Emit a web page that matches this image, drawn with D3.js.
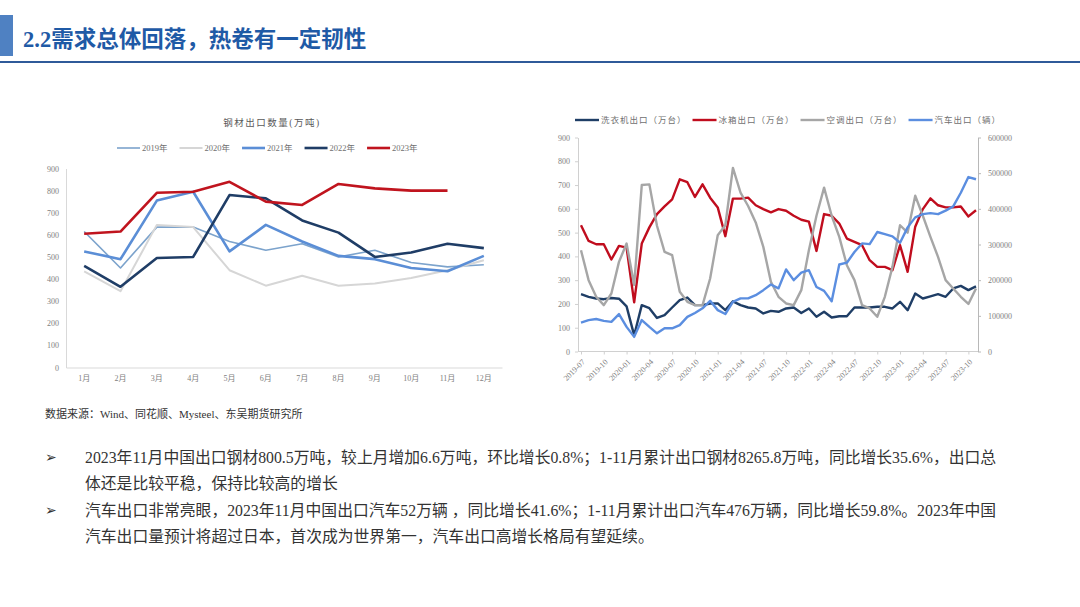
<!DOCTYPE html>
<html>
<head>
<meta charset="utf-8">
<script src="https://cdn.jsdelivr.net/npm/d3@7"></script>
<style>
    body { margin: 0; background: #fff; }
    svg { display: block; }
</style>
</head>
<body>
<svg></svg>
<script>
// заголовок и подписи
const titleText = "2.2需求总体回落，热卷有一定韧性";
const steelTitle = "钢材出口数量(万吨)";
const sourceText = "数据来源：Wind、同花顺、Mysteel、东吴期货研究所";

// левый график: экспорт стали по месяцам
const months = ["1月", "2月", "3月", "4月", "5月", "6月", "7月", "8月", "9月", "10月", "11月", "12月"];
const years = ["2019年", "2020年", "2021年", "2022年", "2023年"];
const steel2019 = [615, 450, 635, 635, 570, 530, 560, 500, 530, 475, 455, 465];
const steel2020 = [435, 345, 645, 635, 440, 370, 415, 370, 380, 405, 440, 485];
const steel2021 = [525, 490, 755, 795, 525, 645, 570, 505, 490, 450, 435, 505];
const steel2022 = [460, 365, 495, 500, 780, 765, 665, 610, 500, 520, 560, 540];
const steel2023 = [605, 615, 790, 795, 840, 750, 735, 830, 810, 800, 800];
const steelTicks = [0, 100, 200, 300, 400, 500, 600, 700, 800, 900];

// правый график: бытовая техника и автомобили
const dates = [
    "2019-07", "2019-08", "2019-09", "2019-10", "2019-11", "2019-12",
    "2020-01", "2020-02", "2020-03", "2020-04", "2020-05", "2020-06",
    "2020-07", "2020-08", "2020-09", "2020-10", "2020-11", "2020-12",
    "2021-01", "2021-02", "2021-03", "2021-04", "2021-05", "2021-06",
    "2021-07", "2021-08", "2021-09", "2021-10", "2021-11", "2021-12",
    "2022-01", "2022-02", "2022-03", "2022-04", "2022-05", "2022-06",
    "2022-07", "2022-08", "2022-09", "2022-10", "2022-11", "2022-12",
    "2023-01", "2023-02", "2023-03", "2023-04", "2023-05", "2023-06",
    "2023-07", "2023-08", "2023-09", "2023-10", "2023-11"
];
const dateTicks = ["2019-07", "2019-10", "2020-01", "2020-04", "2020-07", "2020-10",
    "2021-01", "2021-04", "2021-07", "2021-10", "2022-01", "2022-04",
    "2022-07", "2022-10", "2023-01", "2023-04", "2023-07", "2023-10"];
const applianceNames = ["洗衣机出口（万台）", "冰箱出口（万台）", "空调出口（万台）", "汽车出口（辆）"];
const washer = [241, 230, 223, 220, 225, 222, 190, 68, 195, 182, 141, 153, 185, 216, 227, 195, 195, 202,
    202, 174, 211, 195, 185, 181, 160, 171, 167, 181, 185, 162, 181, 146, 167, 143, 148, 148,
    185, 185, 185, 188, 188, 181, 209, 174, 244, 223, 232, 241, 230, 265, 276, 258, 274];
const fridge = [531, 465, 451, 451, 387, 444, 437, 207, 454, 522, 578, 610, 640, 724, 712, 650, 703, 647,
    606, 485, 643, 643, 647, 615, 599, 585, 599, 592, 571, 554, 546, 423, 578, 571, 538, 475,
    461, 447, 384, 356, 356, 342, 447, 335, 525, 599, 644, 615, 606, 606, 610, 568, 594];
const aircon = [426, 300, 230, 195, 244, 377, 454, 280, 700, 703, 529, 419, 405, 251, 209, 195, 195, 307,
    489, 531, 772, 668, 612, 543, 440, 293, 230, 202, 195, 258, 426, 571, 689, 571, 482, 363,
    300, 195, 181, 146, 230, 356, 531, 500, 655, 571, 482, 398, 300, 265, 230, 200, 265];
const autos = [81000, 88000, 91000, 86000, 83000, 105000, 69000, 41000, 88000, 69000, 51000, 65000,
    65000, 74000, 97000, 108000, 121000, 142000, 116000, 105000, 139000, 149000, 149000, 158000,
    172000, 188000, 177000, 230000, 200000, 221000, 228000, 181000, 170000, 141000, 244000, 249000,
    279000, 303000, 301000, 335000, 329000, 323000, 305000, 348000, 376000, 385000, 388000, 385000,
    395000, 407000, 445000, 489000, 483000];
const leftTicks = [0, 100, 200, 300, 400, 500, 600, 700, 800, 900];
const rightTicks = [0, 100000, 200000, 300000, 400000, 500000, 600000];

// текст внизу
const notes = [
    { bullet: true, text: "2023年11月中国出口钢材800.5万吨，较上月增加6.6万吨，环比增长0.8%；1-11月累计出口钢材8265.8万吨，同比增长35.6%，出口总" },
    { bullet: false, text: "体还是比较平稳，保持比较高的增长" },
    { bullet: true, text: "汽车出口非常亮眼，2023年11月中国出口汽车52万辆 ，同比增长41.6%；1-11月累计出口汽车476万辆，同比增长59.8%。2023年中国" },
    { bullet: false, text: "汽车出口量预计将超过日本，首次成为世界第一，汽车出口高增长格局有望延续。" }
];

const W = 1080, H = 607;
const serif = "'Liberation Serif', 'Noto Sans CJK SC', serif";
const svg = d3.select("svg").attr("width", W).attr("height", H);

function styleAxis(g, color) {
    g.select(".domain").attr("stroke", color);
    g.selectAll(".tick line").attr("stroke", color);
    g.selectAll(".tick text")
        .style("font-family", serif)
        .style("font-size", "8px")
        .attr("fill", "#808080");
}

function drawLegend(g, items, x, y, lineLen, gap, fontSize, spacing) {
    let cx = x;
    items.forEach(item => {
        g.append("line")
            .attr("x1", cx).attr("x2", cx + lineLen)
            .attr("y1", y).attr("y2", y)
            .attr("stroke", item.color)
            .attr("stroke-width", item.width);
        const t = g.append("text")
            .attr("x", cx + lineLen + 2)
            .attr("y", y)
            .attr("dy", "0.35em")
            .style("font-family", serif)
            .style("font-size", fontSize + "px")
            .style("letter-spacing", spacing + "px")
            .attr("fill", "#707070")
            .text(item.name);
        cx += lineLen + 2 + t.node().getComputedTextLength() + gap;
    });
}

// шапка слайда
svg.append("rect")
    .attr("x", 0).attr("y", 15)
    .attr("width", 13).attr("height", 41)
    .attr("fill", "#4f81c2");
svg.append("text")
    .attr("x", 23).attr("y", 47)
    .style("font-family", serif)
    .style("font-weight", "bold")
    .style("font-size", "22.5px")
    .attr("fill", "#1f5aa6")
    .text(titleText);
svg.append("line")
    .attr("x1", 0).attr("x2", W)
    .attr("y1", 62).attr("y2", 62)
    .attr("stroke", "#2f5a99")
    .attr("stroke-width", 2);

// левый график
const steelX = d3.scaleBand().domain(months).range([66, 502]);
const steelY = d3.scaleLinear().domain([0, 900]).range([367.5, 168.5]);
const steel = svg.append("g");

steel.append("text")
    .attr("x", 272).attr("y", 123)
    .attr("text-anchor", "middle")
    .attr("dy", "0.35em")
    .style("font-family", serif)
    .style("font-size", "9.5px")
    .style("letter-spacing", "1.5px")
    .attr("fill", "#595959")
    .text(steelTitle);

steel.append("g")
    .attr("transform", "translate(66,0)")
    .call(d3.axisLeft(steelY).tickValues(steelTicks).tickSize(0).tickPadding(7).tickSizeOuter(0))
    .call(g => styleAxis(g, "#d9d9d9"));
steel.append("g")
    .attr("transform", "translate(0,367.5)")
    .call(d3.axisBottom(steelX).tickSize(0).tickPadding(8).tickSizeOuter(0))
    .call(g => styleAxis(g, "#d9d9d9"));

const steelSeries = [
    { name: years[0], values: steel2019, color: "#7ca3cc", width: 1.6 },
    { name: years[1], values: steel2020, color: "#d6d6d6", width: 2 },
    { name: years[2], values: steel2021, color: "#5b8ed6", width: 2.6 },
    { name: years[3], values: steel2022, color: "#1f3d66", width: 2.6 },
    { name: years[4], values: steel2023, color: "#c0141e", width: 2.6 }
];
const steelLine = d3.line()
    .x((d, i) => steelX(months[i]) + steelX.bandwidth() / 2)
    .y(d => steelY(d));

steelSeries.forEach(s => {
    steel.append("path")
        .datum(s.values)
        .attr("d", steelLine)
        .attr("fill", "none")
        .attr("stroke", s.color)
        .attr("stroke-width", s.width)
        .attr("stroke-linejoin", "round");
});
drawLegend(steel.append("g"), steelSeries, 117, 148, 23, 12, 8.5, 0);

svg.append("text")
    .attr("x", 45).attr("y", 418)
    .style("font-family", serif)
    .style("font-size", "11px")
    .attr("fill", "#333")
    .text(sourceText);

// правый график
const dateX = d3.scalePoint().domain(dates).range([581, 976]);
const yLeft = d3.scaleLinear().domain([0, 900]).range([351.5, 137.5]);
const yRight = d3.scaleLinear().domain([0, 600000]).range([351.5, 137.5]);
const apps = svg.append("g");

apps.append("g")
    .attr("transform", "translate(578,0)")
    .call(d3.axisLeft(yLeft).tickValues(leftTicks).tickSize(3).tickPadding(5).tickSizeOuter(0))
    .call(g => styleAxis(g, "#d0d0d0"));
apps.append("g")
    .attr("transform", "translate(978,0)")
    .call(d3.axisRight(yRight).tickValues(rightTicks).tickFormat(d3.format("d"))
        .tickSize(3).tickPadding(7).tickSizeOuter(0))
    .call(g => styleAxis(g, "#b8b8b8"));

const dateAxis = apps.append("g")
    .attr("transform", "translate(0,351.5)")
    .call(d3.axisBottom(dateX).tickValues(dateTicks).tickSize(3).tickSizeOuter(0))
    .call(g => styleAxis(g, "#d0d0d0"));
dateAxis.select(".domain").remove();
dateAxis.selectAll(".tick text")
    .attr("x", 0).attr("y", 0)
    .attr("dy", "0.35em")
    .attr("text-anchor", "end")
    .attr("transform", "translate(2,9) rotate(-45)");
apps.append("line")
    .attr("x1", 578).attr("x2", 978)
    .attr("y1", 351.5).attr("y2", 351.5)
    .attr("stroke", "#d0d0d0");

const appSeries = [
    { name: applianceNames[0], values: washer, color: "#1f3e66", width: 2.4, y: yLeft },
    { name: applianceNames[1], values: fridge, color: "#c00d1e", width: 2.4, y: yLeft },
    { name: applianceNames[2], values: aircon, color: "#a6a6a6", width: 2.4, y: yLeft },
    { name: applianceNames[3], values: autos, color: "#5b8ee0", width: 2.4, y: yRight }
];
appSeries.forEach(s => {
    const line = d3.line()
        .x((d, i) => dateX(dates[i]))
        .y(d => s.y(d));
    apps.append("path")
        .datum(s.values)
        .attr("d", line)
        .attr("fill", "none")
        .attr("stroke", s.color)
        .attr("stroke-width", s.width)
        .attr("stroke-linejoin", "round");
});
drawLegend(apps.append("g"), appSeries, 575, 120, 24, 6, 8.5, 1);

// пункты с выводами
const noteY = [457, 483, 510, 536];
notes.forEach((n, i) => {
    if (n.bullet) {
        svg.append("text")
            .attr("x", 45).attr("y", noteY[i])
            .attr("dy", "0.35em")
            .style("font-family", "'DejaVu Sans'")
            .style("font-size", "14px")
            .attr("fill", "#333")
            .text("➢");
    }
    svg.append("text")
        .attr("x", 85).attr("y", noteY[i])
        .attr("dy", "0.35em")
        .style("font-family", serif)
        .style("font-size", "15.8px")
        .attr("fill", "#333")
        .text(n.text);
});
</script>
</body>
</html>
